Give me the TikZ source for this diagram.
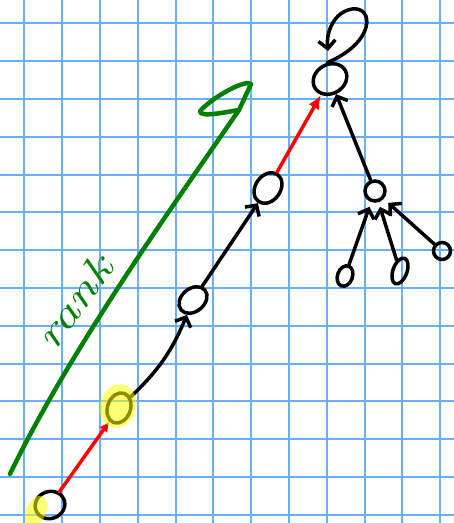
\documentclass[tikz,border=0pt]{standalone}
\usetikzlibrary{arrows.meta,shapes.geometric}
\definecolor{gridblue}{RGB}{105,175,255}
\definecolor{pengreen}{RGB}{0,128,0}
\definecolor{penred}{RGB}{255,0,0}
\definecolor{hiyellow}{RGB}{255,255,0}
\begin{document}
\begin{tikzpicture}[x=1pt,y=-1pt,
  gridline/.style={draw=gridblue, line width=2pt},
  hn/.style={draw=black, line width=3.5pt, ellipse, inner sep=0pt},
  hilite/.style={fill=hiyellow, fill opacity=0.55, ellipse, inner sep=0pt, draw=none},
  blk/.style={draw=black, line width=3.5pt, line cap=round, -{Straight Barb[length=8pt,width=17pt]}},
  redarr/.style={draw=penred, line width=3.5pt, line cap=round},
  grn/.style={draw=pengreen, line width=4.5pt, line cap=round, line join=round}]
\useasboundingbox (0,0) rectangle (454,523);
\fill[white] (0,0) rectangle (454,523);
% grid
\foreach \k in {0,...,11} \draw[gridline] ({24.3+37.8*\k},0) -- ({24.3+37.8*\k},523);
\foreach \k in {0,...,13} \draw[gridline] (0,{23.3+37.8*\k}) -- (454,{23.3+37.8*\k});
% nodes
\node[hn, minimum width=30pt, minimum height=27pt, rotate=20] (n1) at (50,505) {};
\node[hn, minimum width=23pt, minimum height=31pt, rotate=-20] (n2) at (119,408) {};
\node[hn, minimum width=31pt, minimum height=23pt, rotate=40] (n3) at (193,300) {};
\node[hn, minimum width=33pt, minimum height=25pt, rotate=55] (n4) at (268,188) {};
\node[hn, minimum width=35pt, minimum height=29pt, rotate=30] (n5) at (330,79) {};
\node[hn, minimum width=20pt, minimum height=20pt] (n6) at (375,191) {};
\node[hn, minimum width=15pt, minimum height=21pt, rotate=-20] (n7) at (345,276) {};
\node[hn, minimum width=14pt, minimum height=27pt, rotate=-20] (n8) at (400,271) {};
\node[hn, minimum width=17pt, minimum height=17pt] (n9) at (442,251) {};
% connectors
\draw[redarr, -{Latex[length=10pt,width=10pt]}] (n1) -- (n2);
\draw[blk] (n2) to[bend right=12] (n3);
\draw[blk] (n3) -- (n4);
\draw[redarr, -{Latex[length=14pt,width=12pt]}] (n4) -- (n5);
\draw[blk] (n6) -- (n5);
\draw[blk, shorten >=5pt] (n7) -- (n6);
\draw[blk, shorten >=5pt] (n8) -- (n6);
\draw[blk, shorten >=6pt] (n9) -- (n6);
\coordinate (lp) at (328,51);
\draw[blk] (n5.70) .. controls (376,42) and (374,6) .. (352,9) .. controls (334,12) and (326,32) .. (lp);
% green rank arrow
\coordinate (g0) at (10,474);
\coordinate (g1) at (239,110);
\draw[grn] (g0) .. controls (70,350) and (170,210) .. (g1);
\draw[grn] (g1) -- (251,84) .. controls (246,79) and (214,96) .. (200,111) .. controls (199,118) and (226,112) .. (g1);
\node[text=pengreen, rotate=54, font=\itshape\fontsize{40}{40}\selectfont] (rk) at (74,302) {\scalebox{1.4}[1]{rank}};
% highlights
\node[hilite, minimum width=36pt, minimum height=44pt, rotate=-15] (h2) at (118,406) {};
\node[hilite, minimum width=20pt, minimum height=32pt, rotate=-25] (h1) at (36,511) {};
\end{tikzpicture}
\end{document}
